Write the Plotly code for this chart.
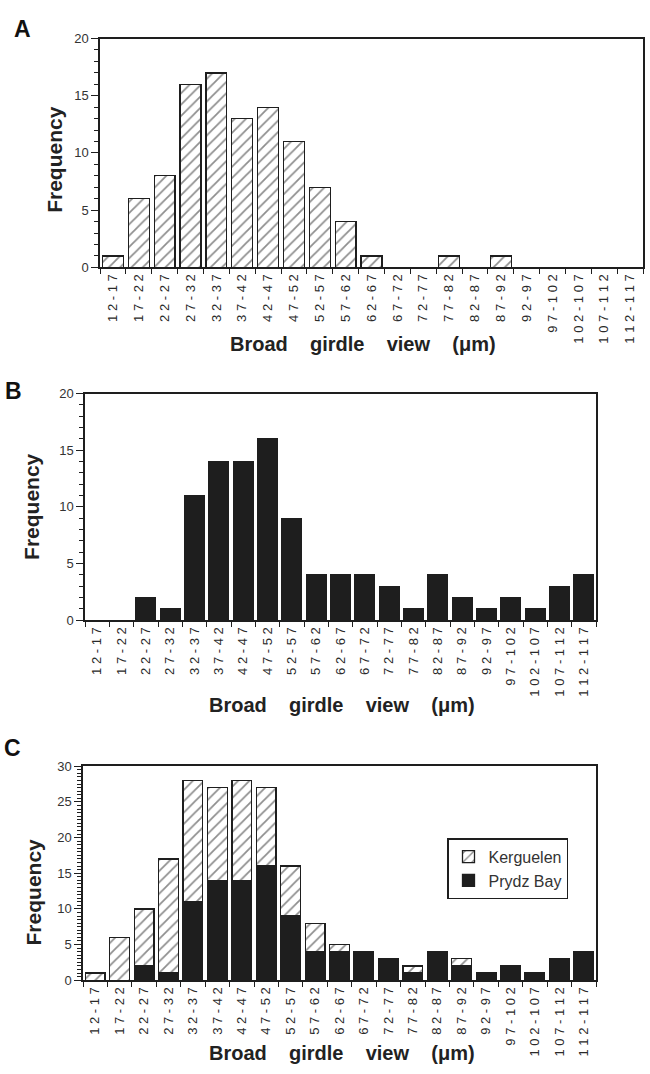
import plotly.graph_objects as go

# ---------------- data ----------------
categories = ["12-17", "17-22", "22-27", "27-32", "32-37", "37-42", "42-47",
              "47-52", "52-57", "57-62", "62-67", "67-72", "72-77", "77-82",
              "82-87", "87-92", "92-97", "97-102", "102-107", "107-112", "112-117"]
kerguelen = [1, 6, 8, 16, 17, 13, 14, 11, 7, 4, 1, 0, 0, 1, 0, 1, 0, 0, 0, 0, 0]
prydz_bay = [0, 0, 2, 1, 11, 14, 14, 16, 9, 4, 4, 4, 3, 1, 4, 2, 1, 2, 1, 3, 4]
tick_labels = ["\u00a0".join(c) for c in categories]
panel_letters = ["A", "B", "C"]
x_title = "Broad\u00a0\u00a0\u00a0\u00a0girdle\u00a0\u00a0\u00a0\u00a0view\u00a0\u00a0\u00a0\u00a0(\u03bcm)"
y_title = "Frequency"

W, H = 650, 1074
FONT = "Liberation Sans, Arial, Helvetica, sans-serif"
INK = "#1e1e1e"

def px(x):
    return x / W

def py(y):
    return 1 - y / H

hatch = dict(shape="/", fgcolor=INK, bgcolor="white", size=8, solidity=0.22)
outline = dict(color=INK, width=1.3)

fig = go.Figure()

# Panel A: Kerguelen (hatched)
fig.add_trace(go.Bar(x=categories, y=kerguelen, xaxis="x", yaxis="y",
                     marker=dict(color="white", pattern=hatch, line=outline),
                     showlegend=False, name="Kerguelen"))
# Panel B: Prydz Bay (solid)
fig.add_trace(go.Bar(x=categories, y=prydz_bay, xaxis="x2", yaxis="y2",
                     marker=dict(color=INK, line=outline),
                     showlegend=False, name="Prydz Bay"))
# Panel C: stacked
fig.add_trace(go.Bar(x=categories, y=prydz_bay, xaxis="x3", yaxis="y3",
                     marker=dict(color=INK, line=outline),
                     showlegend=True, name="Prydz Bay"))
fig.add_trace(go.Bar(x=categories, y=kerguelen, xaxis="x3", yaxis="y3",
                     marker=dict(color="white", pattern=hatch, line=outline),
                     showlegend=True, name="Kerguelen"))

def xax(left, right, anchor):
    return dict(domain=[px(left), px(right)], anchor=anchor, type="category",
                categoryorder="array", categoryarray=categories,
                tickmode="array", tickvals=categories, ticktext=tick_labels,
                range=[-0.5, len(categories) - 0.5],
                tickangle=-90, tickson="boundaries", ticks="outside",
                ticklen=5, tickwidth=1.2, tickcolor=INK,
                showline=True, linecolor=INK, linewidth=1.5, mirror=True,
                showgrid=False, zeroline=False,
                tickfont=dict(family=FONT, size=13, color="#2a2a2a"))

def yax(top, bottom, anchor, ymax, minor_step):
    return dict(domain=[py(bottom), py(top)], anchor=anchor,
                range=[0, ymax], dtick=5, tick0=0, ticks="outside",
                ticklen=7, tickwidth=1.2, tickcolor=INK,
                minor=dict(dtick=minor_step, ticks="outside", ticklen=4,
                           tickwidth=1, tickcolor=INK, showgrid=False),
                showline=True, linecolor=INK, linewidth=1.5, mirror=True,
                showgrid=False, zeroline=False,
                tickfont=dict(family=FONT, size=13, color="#333333"))

fig.update_layout(
    width=W, height=H, margin=dict(l=0, r=0, t=0, b=0),
    paper_bgcolor="white", plot_bgcolor="white",
    barmode="stack", bargap=0.19,
    xaxis=xax(100, 643, "y"), yaxis=yax(32, 264, "x", 20, 1),
    xaxis2=xax(85, 596, "y2"), yaxis2=yax(392, 622, "x2", 20, 1),
    xaxis3=xax(83, 596, "y3"), yaxis3=yax(770, 987, "x3", 30, 0.5),
    legend=dict(x=px(447), y=py(843), xanchor="left", yanchor="top",
                bgcolor="white", bordercolor=INK, borderwidth=1.5,
                traceorder="reversed", font=dict(family=FONT, size=16, color="#333333"),
                itemwidth=30),
    font=dict(family=FONT),
)

annotations = []
letter_pos = [(22, 22), (13, 389), (12, 752)]
for letter, (lx, ly) in zip(panel_letters, letter_pos):
    annotations.append(dict(text="<b>%s</b>" % letter, x=px(lx), y=py(ly),
                            xref="paper", yref="paper", showarrow=False,
                            xanchor="center", yanchor="middle",
                            font=dict(family=FONT, size=23, color="#111111")))
freq_pos = [(55, 155), (32, 507), (33, 898)]
for fx, fy in freq_pos:
    annotations.append(dict(text="<b>%s</b>" % y_title, x=px(fx), y=py(fy),
                            xref="paper", yref="paper", showarrow=False,
                            textangle=-90, xanchor="center", yanchor="middle",
                            font=dict(family=FONT, size=21, color="#222222")))
title_pos = [(363, 342), (342, 708), (342, 1061)]
for tx, ty in title_pos:
    annotations.append(dict(text="<b>%s</b>" % x_title, x=px(tx), y=py(ty),
                            xref="paper", yref="paper", showarrow=False,
                            xanchor="center", yanchor="middle",
                            font=dict(family=FONT, size=20, color="#222222")))
fig.update_layout(annotations=annotations)

fig.write_html("out.html")
